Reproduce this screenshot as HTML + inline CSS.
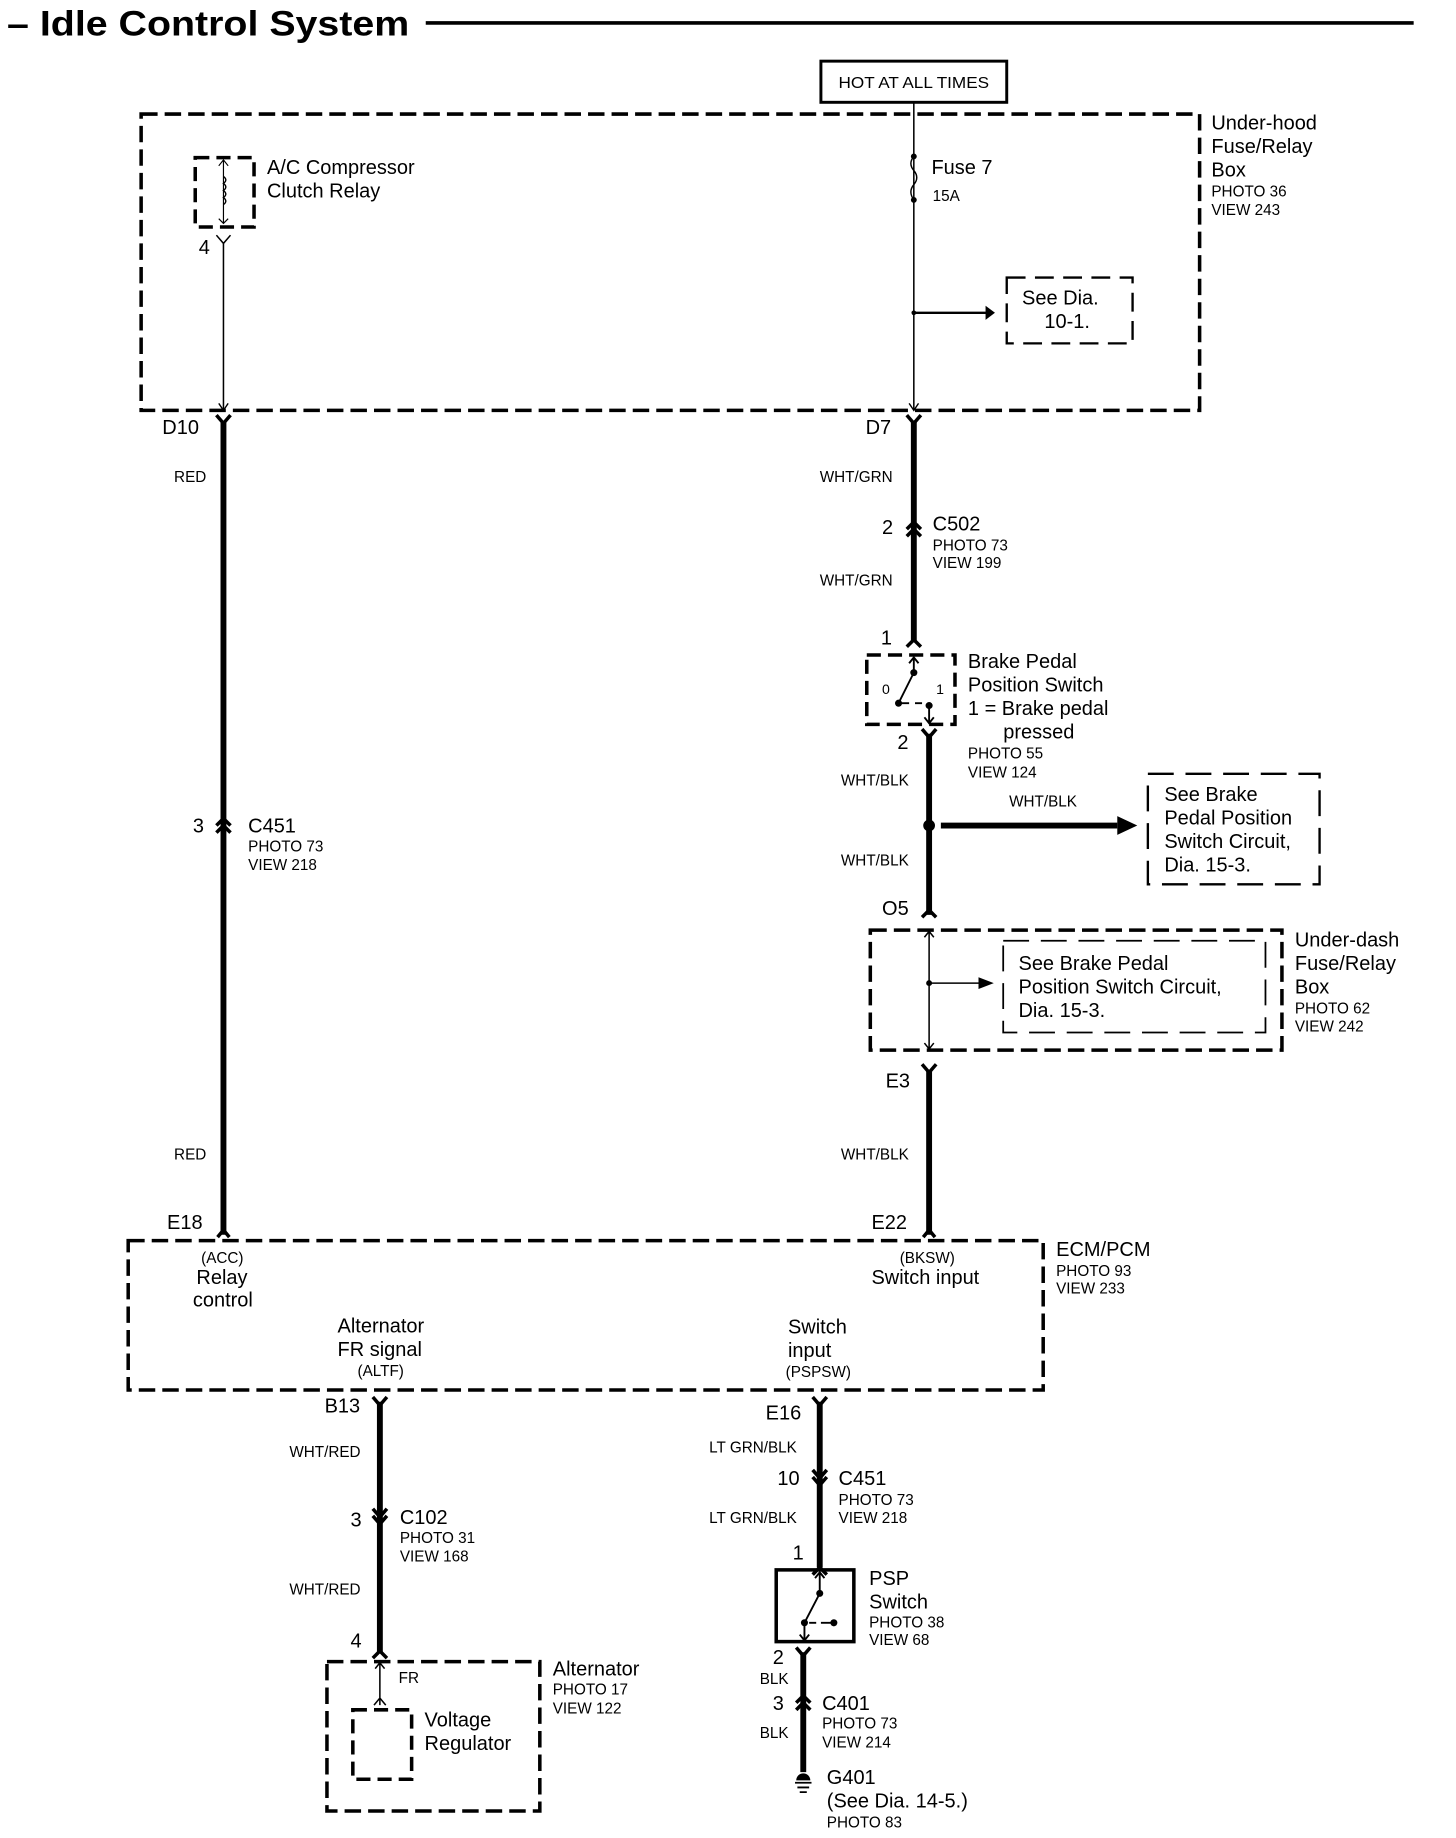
<!DOCTYPE html>
<html><head><meta charset="utf-8"><style>
html,body{margin:0;padding:0;background:#fff;}
svg{display:block}
text{font-family:"Liberation Sans",Arial,sans-serif;fill:#000;}
.l{font-size:17px}
.s{font-size:13px}
.t{font-size:13px}
</style></head><body>
<svg width="1456" height="1838" viewBox="0 0 1238 1563" preserveAspectRatio="none" xmlns="http://www.w3.org/2000/svg">
<rect width="1238" height="1563" fill="#fff"/>
<!-- title -->
<text x="6" y="30" font-size="30" font-weight="bold" textLength="342" lengthAdjust="spacingAndGlyphs">– Idle Control System</text>
<line x1="362" y1="19.5" x2="1202" y2="19.5" stroke="#000" stroke-width="3"/>
<!-- HOT box -->
<rect x="698" y="52" width="158" height="35" fill="none" stroke="#000" stroke-width="2.5"/>
<text x="777" y="75" class="t" text-anchor="middle" textLength="128" lengthAdjust="spacingAndGlyphs">HOT AT ALL TIMES</text>
<g fill="none" stroke="#000">
<!-- under-hood box -->
<rect x="120" y="97" width="900" height="252" stroke-width="3" stroke-dasharray="14,6"/>
<!-- relay -->
<rect x="166" y="134" width="50" height="59" stroke-width="3" stroke-dasharray="12,6"/>
<path d="M190 136 V190 M186 141 L190 136 L194 141 M186 186 L190 190 L194 186" stroke-width="1"/>
<path d="M190 150 q4 3 0 6 q4 3 0 6 q4 3 0 6 q4 3 0 6" stroke-width="1.2"/>
<path d="M184 200 L190 207 L196 200 M190 207 V349" stroke-width="1.3"/>
<path d="M186 343 L190 349 L194 343" stroke-width="1.2"/>
<!-- fuse -->
<path d="M777 87 V349" stroke-width="1.3"/>
<path d="M773 343 L777 349 L781 343" stroke-width="1.2"/>
<path d="M777 266 H840" stroke-width="2"/>
<rect x="856" y="236" width="107" height="56" stroke-width="2" stroke-dasharray="16,8"/>
<!-- D10 wire -->
<path d="M190 358 V1050" stroke-width="5"/>
<path d="M184 353 L190 360 L196 353" stroke-width="3"/>
<path d="M184 702 L190 696 L196 702 M184 708 L190 702 L196 708" stroke-width="3"/>
<path d="M185 1052 L190 1046 L195 1052" stroke-width="3"/>
<!-- D7 wire -->
<path d="M777 358 V545" stroke-width="5"/>
<path d="M771 353 L777 360 L783 353" stroke-width="3"/>
<path d="M771 450 L777 444 L783 450 M771 456 L777 450 L783 456" stroke-width="3"/>
<path d="M771 550 L777 544 L783 550" stroke-width="3"/>
<!-- brake switch -->
<rect x="737" y="557" width="75" height="59" stroke-width="3" stroke-dasharray="12,6"/>
<path d="M777 560 V572 M773 564 L777 559 L781 564 M777 572 L764 598 M766 598 H773 M778 598 H784 M790 600 V614 M786 610 L790 615 L794 610" stroke-width="1.6"/>
<path d="M790 624 V778" stroke-width="5"/>
<path d="M784 620 L790 627 L796 620" stroke-width="3"/>
<path d="M800 702 H950" stroke-width="5"/>
<path d="M784 780 L790 774 L796 780" stroke-width="3"/>
<rect x="976" y="658" width="146" height="94" stroke-width="2" stroke-dasharray="22,10"/>
<!-- under-dash -->
<rect x="740" y="791" width="350" height="102" stroke-width="3" stroke-dasharray="14,6"/>
<rect x="853" y="800" width="223" height="78" stroke-width="1.5" stroke-dasharray="22,10"/>
<path d="M790 793 V891 M786 797 L790 792 L794 797 M786 887 L790 892 L794 887 M790 836 H835" stroke-width="1.3"/>
<path d="M790 910 V1050" stroke-width="5"/>
<path d="M784 905 L790 912 L796 905" stroke-width="3"/>
<path d="M785 1052 L790 1046 L795 1052" stroke-width="3"/>
<!-- ECM -->
<rect x="109" y="1055" width="778" height="127" stroke-width="3" stroke-dasharray="14,6"/>
<!-- B13 -->
<path d="M323 1192 V1405" stroke-width="5"/>
<path d="M317 1188 L323 1195 L329 1188" stroke-width="3"/>
<path d="M317 1283 L323 1290 L329 1283 M317 1289 L323 1296 L329 1289" stroke-width="3"/>
<path d="M317 1410 L323 1404 L329 1410" stroke-width="3"/>
<rect x="278" y="1413" width="181" height="127" stroke-width="3" stroke-dasharray="14,6"/>
<path d="M323 1414 V1450 M319 1419 L323 1414 L327 1419 M318 1450 L323 1444 L328 1450" stroke-width="1.3"/>
<rect x="300" y="1454" width="50" height="59" stroke-width="3" stroke-dasharray="12,6"/>
<!-- E16 -->
<path d="M697 1192 V1333" stroke-width="5"/>
<path d="M691 1188 L697 1195 L703 1188" stroke-width="3"/>
<path d="M691 1250 L697 1257 L703 1250 M691 1256 L697 1263 L703 1256" stroke-width="3"/>
<path d="M691 1339 L697 1333 L703 1339" stroke-width="3"/>
<rect x="660" y="1335" width="66" height="61" stroke-width="3"/>
<path d="M697 1338 V1355 M693 1342 L697 1337 L701 1342 M697 1355 L684 1380 V1394 M680 1390 L684 1395 L688 1390 M688 1380 H694 M698 1380 H709" stroke-width="1.6"/>
<path d="M683 1405 V1507" stroke-width="5"/>
<path d="M677 1401 L683 1408 L689 1401" stroke-width="3"/>
<path d="M677 1448 L683 1442 L689 1448 M677 1454 L683 1448 L689 1454" stroke-width="3"/>
<path d="M676 1516 H690 M678 1520 H688 M680 1524 H686" stroke-width="1.5"/>
</g>
<!-- filled bits -->
<circle cx="777" cy="133" r="2.5"/><circle cx="777" cy="170" r="2.5"/>
<path d="M777 133 q-5 6 0 12 q5 6 0 12 q-5 6 0 13" fill="none" stroke="#000" stroke-width="1.2"/>
<circle cx="777" cy="266" r="2"/>
<path d="M838 260 L846 266 L838 272Z"/>
<circle cx="790" cy="702" r="5"/>
<path d="M950 694 L967 702 L950 710Z"/>
<circle cx="790" cy="836" r="2.5"/>
<path d="M832 831 L845 836 L832 841Z"/>
<circle cx="777" cy="572" r="3"/><circle cx="764" cy="598" r="3"/><circle cx="790" cy="600" r="3"/>
<circle cx="697" cy="1355" r="3"/><circle cx="684" cy="1380" r="3"/><circle cx="709" cy="1380" r="3"/>
<path d="M677 1514 a6 6 0 0 1 12 0Z"/>
<!-- labels -->
<text x="1030" y="110" class="l">Under-hood</text>
<text x="1030" y="130" class="l">Fuse/Relay</text>
<text x="1030" y="150" class="l">Box</text>
<text x="1030" y="167" class="s">PHOTO 36</text>
<text x="1030" y="183" class="s">VIEW 243</text>
<text x="227" y="148" class="l">A/C Compressor</text>
<text x="227" y="168" class="l">Clutch Relay</text>
<text x="169" y="216" class="l">4</text>
<text x="792" y="148" class="l">Fuse 7</text>
<text x="793" y="171" class="s">15A</text>
<text x="869" y="259" class="l">See  Dia.</text>
<text x="888" y="279" class="l">10-1.</text>
<text x="138" y="369" class="l">D10</text>
<text x="148" y="410" class="s">RED</text>
<text x="164" y="708" class="l">3</text>
<text x="211" y="708" class="l">C451</text>
<text x="211" y="724" class="s">PHOTO 73</text>
<text x="211" y="740" class="s">VIEW 218</text>
<text x="148" y="986" class="s">RED</text>
<text x="142" y="1045" class="l">E18</text>
<text x="736" y="369" class="l">D7</text>
<text x="697" y="410" class="s">WHT/GRN</text>
<text x="750" y="454" class="l">2</text>
<text x="793" y="451" class="l">C502</text>
<text x="793" y="468" class="s">PHOTO 73</text>
<text x="793" y="483" class="s">VIEW 199</text>
<text x="697" y="498" class="s">WHT/GRN</text>
<text x="749" y="548" class="l">1</text>
<text x="750" y="590" font-size="12">0</text>
<text x="796" y="590" font-size="12">1</text>
<text x="823" y="568" class="l">Brake Pedal</text>
<text x="823" y="588" class="l">Position Switch</text>
<text x="823" y="608" class="l">1 = Brake pedal</text>
<text x="853" y="628" class="l">pressed</text>
<text x="823" y="645" class="s">PHOTO 55</text>
<text x="823" y="661" class="s">VIEW 124</text>
<text x="763" y="637" class="l">2</text>
<text x="715" y="668" class="s">WHT/BLK</text>
<text x="858" y="686" class="s">WHT/BLK</text>
<text x="990" y="681" class="l">See Brake</text>
<text x="990" y="701" class="l">Pedal Position</text>
<text x="990" y="721" class="l">Switch Circuit,</text>
<text x="990" y="741" class="l">Dia. 15-3.</text>
<text x="715" y="736" class="s">WHT/BLK</text>
<text x="750" y="778" class="l">O5</text>
<text x="866" y="825" class="l">See Brake Pedal</text>
<text x="866" y="845" class="l">Position Switch Circuit,</text>
<text x="866" y="865" class="l">Dia. 15-3.</text>
<text x="1101" y="805" class="l">Under-dash</text>
<text x="1101" y="825" class="l">Fuse/Relay</text>
<text x="1101" y="845" class="l">Box</text>
<text x="1101" y="862" class="s">PHOTO 62</text>
<text x="1101" y="877" class="s">VIEW 242</text>
<text x="753" y="925" class="l">E3</text>
<text x="715" y="986" class="s">WHT/BLK</text>
<text x="741" y="1045" class="l">E22</text>
<text x="171" y="1074" class="s">(ACC)</text>
<text x="167" y="1092" class="l">Relay</text>
<text x="164" y="1111" class="l">control</text>
<text x="765" y="1074" class="s">(BKSW)</text>
<text x="741" y="1092" class="l">Switch input</text>
<text x="287" y="1133" class="l">Alternator</text>
<text x="287" y="1153" class="l">FR signal</text>
<text x="304" y="1170" class="s">(ALTF)</text>
<text x="670" y="1134" class="l">Switch</text>
<text x="670" y="1154" class="l">input</text>
<text x="668" y="1171" class="s">(PSPSW)</text>
<text x="898" y="1068" class="l">ECM/PCM</text>
<text x="898" y="1085" class="s">PHOTO 93</text>
<text x="898" y="1100" class="s">VIEW 233</text>
<text x="276" y="1201" class="l">B13</text>
<text x="246" y="1239" class="s">WHT/RED</text>
<text x="298" y="1298" class="l">3</text>
<text x="340" y="1296" class="l">C102</text>
<text x="340" y="1312" class="s">PHOTO 31</text>
<text x="340" y="1328" class="s">VIEW 168</text>
<text x="246" y="1356" class="s">WHT/RED</text>
<text x="298" y="1401" class="l">4</text>
<text x="339" y="1431" class="s">FR</text>
<text x="361" y="1468" class="l">Voltage</text>
<text x="361" y="1488" class="l">Regulator</text>
<text x="470" y="1425" class="l">Alternator</text>
<text x="470" y="1441" class="s">PHOTO 17</text>
<text x="470" y="1457" class="s">VIEW 122</text>
<text x="651" y="1207" class="l">E16</text>
<text x="603" y="1235" class="s">LT GRN/BLK</text>
<text x="661" y="1263" class="l">10</text>
<text x="713" y="1263" class="l">C451</text>
<text x="713" y="1280" class="s">PHOTO 73</text>
<text x="713" y="1295" class="s">VIEW 218</text>
<text x="603" y="1295" class="s">LT GRN/BLK</text>
<text x="674" y="1326" class="l">1</text>
<text x="739" y="1348" class="l">PSP</text>
<text x="739" y="1368" class="l">Switch</text>
<text x="739" y="1384" class="s">PHOTO 38</text>
<text x="739" y="1399" class="s">VIEW 68</text>
<text x="657" y="1415" class="l">2</text>
<text x="646" y="1432" class="s">BLK</text>
<text x="657" y="1454" class="l">3</text>
<text x="699" y="1454" class="l">C401</text>
<text x="699" y="1470" class="s">PHOTO 73</text>
<text x="699" y="1486" class="s">VIEW 214</text>
<text x="646" y="1478" class="s">BLK</text>
<text x="703" y="1517" class="l">G401</text>
<text x="703" y="1537" class="l">(See  Dia. 14-5.)</text>
<text x="703" y="1554" class="s">PHOTO 83</text>
</svg>
</body></html>
